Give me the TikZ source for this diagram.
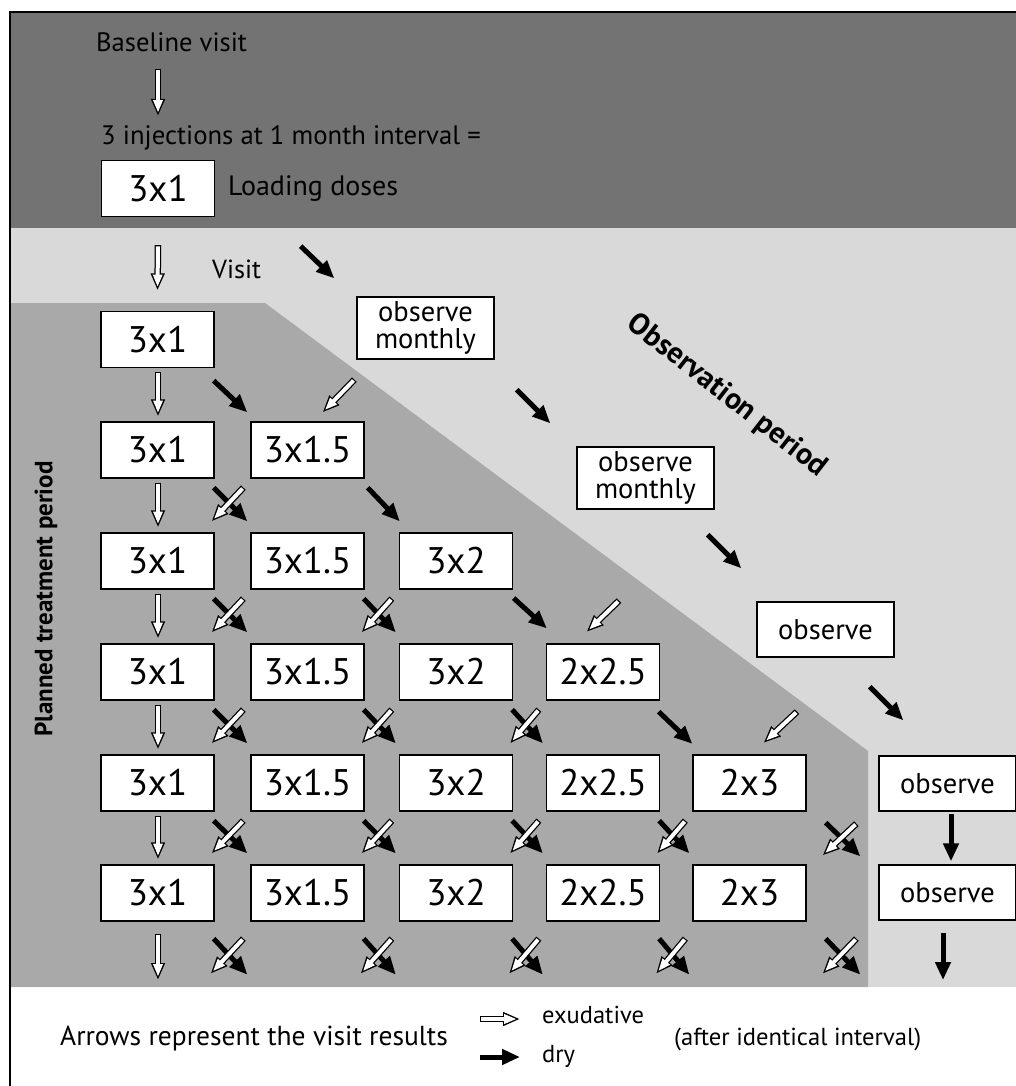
\documentclass[tikz,border=0pt]{standalone}
\usepackage{fontspec}
\setmainfont{PT Sans}
\usetikzlibrary{arrows.meta}
\definecolor{band}{HTML}{737373}
\definecolor{lightbg}{HTML}{D9D9D9}
\definecolor{midbg}{HTML}{A9A9A9}
\newcommand\fs[1]{\fontsize{#1}{#1}\selectfont}
\tikzset{
  box/.style={draw=black, line width=1.3pt, fill=white, minimum width=113pt, minimum height=56pt, inner sep=0pt, font=\fontsize{37}{40}\selectfont},
  obox/.style={draw=black, line width=1.3pt, fill=white, minimum width=137pt, inner sep=0pt, align=center, font=\fontsize{28.5}{27}\selectfont},
  lbl/.style={inner sep=0pt, anchor=base west},
  bold/.style={inner sep=0pt, font=\bfseries},
  barr/.style={line width=5pt, -{Triangle[length=18pt,width=15pt]}},
  wout/.style={line width=6.5pt, -{Triangle[length=17pt,width=13pt]}},
  win/.style={white, line width=4pt, shorten <=1.2pt, shorten >=3.4pt, -{Triangle[length=12.4pt,width=9pt]}},
}
\newcommand\warr[2]{\draw[wout] #1 -- #2; \draw[win] #1 -- #2;}
\newcommand\xcross[4]{%
  \draw[barr] ([shift={(-1pt,-9pt)}]b#1#2.south east) -- ([shift={(-3pt,11pt)}]b#3#4.north west);
  \warr{([shift={(-7pt,-9pt)}]b#1#4.south west)}{([shift={(-3pt,11pt)}]b#3#2.north east)}}
\newcommand\xlast[2]{%
  \draw[barr] ([shift={(-1pt,-17pt)}]b6#1.south east) -- ([shift={(-3pt,-53pt)}]b6#2.south west);
  \warr{([shift={(-7pt,-17pt)}]b6#2.south west)}{([shift={(-4pt,-52pt)}]b6#1.south east)}}
\begin{document}
\begin{tikzpicture}[x=1pt,y=-1pt]
\useasboundingbox (0,0) rectangle (1016,1086);
\fill[white] (0,0) rectangle (1016,1086);
\begin{scope}
\clip (0,0) rectangle (1016,1086);
\fill[band] (10,12) rectangle (1030,228);
\fill[lightbg] (10,228) rectangle (1030,987);
\fill[midbg] (10,303) -- (265,303) -- (868,751) -- (868,987) -- (10,987) -- cycle;
\draw[line width=2pt] (10,1100) -- (10,12) -- (1030,12);
\end{scope}

% top band
\node[lbl, font=\fs{26.6}] (base) at (96,52) {Baseline visit};
\node[lbl, font=\fs{26.7}] (inj) at (101,145) {3 injections at 1 month interval =};
\node[box] (ld) at (158,188.5) {3x1};
\node[lbl, font=\fs{28}] (loading) at (228,195) {Loading doses};
\node[lbl, font=\fs{26.2}] (visit) at (212,278) {Visit};

% treatment grid
\foreach \r/\y in {1/339.5,2/450,3/561,4/672,5/783,6/893}{
  \foreach \k/\x/\t in {1/157.5/3x1,2/307.5/3x1.5,3/456/3x2,4/603/2x2.5,5/749.5/2x3}{
    \ifnum\k>\r\else
      \node[box] (b\r\k) at (\x,\y) {\t};
    \fi
  }
}

% observation boxes
\node[obox, minimum height=62pt] (obs1) at (425.5,328) {observe\\monthly};
\node[obox, minimum height=62pt] (obs2) at (645.5,478) {observe\\monthly};
\node[obox, minimum height=55pt] (o3) at (825.5,629.5) {observe};
\node[obox, minimum height=55pt] (o5) at (947.5,783.5) {observe};
\node[obox, minimum height=55pt] (o6) at (947.5,892.5) {observe};

% period labels
\node[bold, rotate=90, font=\bfseries\fs{25}] (planned) at (46,599) {Planned treatment period};
\node[bold, rotate=-38, font=\bfseries\fs{30}] (obsper) at (727,396) {Observation period};

% legend
\node[lbl, font=\fs{27.5}] (legtxt) at (60,1045) {Arrows represent the visit results};
\node[lbl, font=\fs{24.5}] (exu) at (542,1023) {exudative};
\node[lbl, font=\fs{24.5}] (dry) at (542,1062) {dry};
\node[lbl, font=\fs{24.6}] (after) at (674,1045) {(after identical interval)};
\coordinate (lw1) at (480,1019);
\coordinate (lw2) at (520,1019);
\coordinate (lb1) at (480,1057);
\coordinate (lb2) at (520,1057);
\warr{(lw1)}{(lw2)}
\draw[barr] (lb1) -- (lb2);

% first arrows
\warr{([shift={(62pt,-17pt)}]base.base west)}{([shift={(57pt,29pt)}]inj.base west)}
\warr{([yshift=-28pt]ld.south)}{([yshift=20.5pt]b11.north)}

% observation chain
\draw[barr] ([shift={(85.5pt,-29pt)}]ld.south east) -- ([shift={(-22pt,18pt)}]obs1.north west);
\draw[barr] ([shift={(22pt,-30pt)}]obs1.south east) -- ([shift={(-26pt,23pt)}]obs2.north west);
\draw[barr] ([shift={(-7pt,-25pt)}]obs2.south east) -- ([shift={(-15pt,33pt)}]o3.north west);
\draw[barr] ([shift={(-25pt,-29pt)}]o3.south east) -- ([shift={(25pt,35pt)}]o5.north west);
\draw[barr] ([shift={(3.5pt,-2pt)}]o5.south) -- ([shift={(3.5pt,3pt)}]o6.north);
\coordinate (oend) at (943,980);
\draw[barr] ([shift={(-4.5pt,-12pt)}]o6.south) -- (oend);

% column 1 vertical arrows
\foreach \r/\rn in {1/2,2/3,3/4,4/5,5/6}{
  \warr{([shift={(0.5pt,-4pt)}]b\r1.south)}{([shift={(0.5pt,5pt)}]b\rn1.north)}
}
\coordinate (cend) at (158,980);
\warr{([shift={(0.5pt,-12pt)}]b61.south)}{(cend)}

% diagonal single arrows
\draw[barr] ([shift={(-1pt,-12.5pt)}]b11.south east) -- ([shift={(-3pt,9pt)}]b22.north west);
\warr{([shift={(-2pt,-20pt)}]obs1.south west)}{([shift={(-42pt,9pt)}]b22.north east)}
\draw[barr] ([shift={(3pt,-9pt)}]b22.south east) -- ([shift={(1pt,11pt)}]b33.north west);
\draw[barr] ([shift={(0.5pt,-8.5pt)}]b33.south east) -- ([shift={(1pt,15pt)}]b44.north west);
\warr{([shift={(-26.5pt,-91pt)}]obs2.south)}{([shift={(-73.5pt,11.5pt)}]b44.north east)}
\draw[barr] ([shift={(-1.5pt,-11pt)}]b44.south east) -- ([shift={(0pt,10.5pt)}]b55.north west);
\warr{([shift={(-28.5pt,-54pt)}]o3.south)}{([shift={(-43pt,11.5pt)}]b55.north east)}

% crossings
\foreach \r/\k in {2/1,3/1,3/2,4/1,4/2,4/3,5/1,5/2,5/3,5/4}{
  \pgfmathtruncatemacro\rn{\r+1}
  \pgfmathtruncatemacro\kn{\k+1}
  \xcross{\r}{\k}{\rn}{\kn}
}
\foreach \k/\kn in {1/2,2/3,3/4,4/5}{
  \xlast{\k}{\kn}
}
% crossings at the right edge of the treatment area
\draw[barr] ([shift={(19pt,-11pt)}]b55.south east) -- ([shift={(-18pt,8pt)}]o6.north west);
\warr{([shift={(-22pt,-12pt)}]o5.south west)}{([shift={(16pt,9pt)}]b65.north east)}
\draw[barr] ([shift={(19pt,-17pt)}]b65.south east) -- ([shift={(-18pt,-54pt)}]o6.south west);
\warr{([shift={(-22pt,-18pt)}]o6.south west)}{([shift={(16pt,-52pt)}]b65.south east)}
\end{tikzpicture}
\end{document}
